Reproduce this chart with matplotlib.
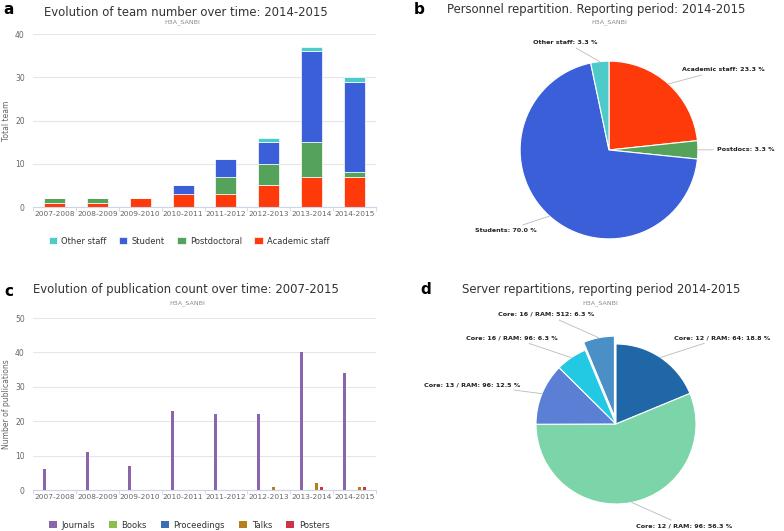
import numpy as np
import matplotlib
matplotlib.use('Agg')
import matplotlib.pyplot as plt

# ---- data ----
years = ['2007-2008', '2008-2009', '2009-2010', '2010-2011',
         '2011-2012', '2012-2013', '2013-2014', '2014-2015']

# panel a: team composition (stacked)
academic = [1, 1, 2, 3, 3, 5, 7, 7]
postdoc = [1, 1, 0, 0, 4, 5, 8, 1]
student = [0, 0, 0, 2, 4, 5, 21, 21]
other = [0, 0, 0, 0, 0, 1, 1, 1]

# panel b: personnel repartition
pers_labels = ['Academic staff', 'Postdocs', 'Students', 'Other staff']
pers_pct = [23.3, 3.3, 70.0, 3.3]

# panel c: publications
pub_types = ['Journals', 'Books', 'Proceedings', 'Talks', 'Posters']
journals = [6, 11, 7, 23, 22, 22, 40, 34]
books = [0, 0, 0, 0, 0, 0, 0, 0]
proceedings = [0, 0, 0, 0, 0, 0, 0, 0]
talks = [0, 0, 0, 0, 0, 1, 2, 1]
posters = [0, 0, 0, 0, 0, 0, 1, 1]

# panel d: servers
server_labels = ['Core: 12 / RAM: 64', 'Core: 12 / RAM: 96', 'Core: 13 / RAM: 96',
                 'Core: 16 / RAM: 96', 'Core: 16 / RAM: 512']
server_pct = [18.8, 56.3, 12.5, 6.3, 6.3]

# ---- style ----
W, H = 784, 531
GRID = '#e6e6e6'
AXLINE = '#ccd6eb'
TICK = '#666666'
SUB = '#8a8a8a'

team_colors = {'academic': '#ff3a0a', 'postdoc': '#55a35a',
               'student': '#3b5fd8', 'other': '#4fcaca'}
pers_colors = ['#ff3a0a', '#55a35a', '#3b5fd8', '#4fcaca']
pub_colors = ['#8a65aa', '#8bbd4f', '#3b6db3', '#b5801c', '#cc3344']
server_colors = ['#1f67a6', '#7cd4a9', '#5c7fd6', '#23c8e2', '#4a8fc6']

fig = plt.figure(figsize=(W / 100, H / 100), dpi=100)


def px_axes(left, top, right, bottom):
    return fig.add_axes([left / W, 1 - bottom / H, (right - left) / W, (bottom - top) / H])


def ftext(x, y, s, **kw):
    fig.text(x / W, 1 - y / H, s, **kw)


def style_bar_axes(ax, ymax, step, ylabel):
    ax.set_xlim(-0.5, len(years) - 0.5)
    ax.set_ylim(0, ymax)
    ax.set_yticks(np.arange(0, ymax + 1, step))
    ax.set_xticks(np.arange(len(years)))
    ax.set_xticklabels(years)
    ax.set_xticks(np.arange(-0.5, len(years)), minor=True)
    for s in ['top', 'right', 'left']:
        ax.spines[s].set_visible(False)
    ax.spines['bottom'].set_color(AXLINE)
    ax.tick_params(axis='y', length=0, labelsize=5.5, labelcolor=TICK, pad=6)
    ax.tick_params(axis='x', which='major', length=0, labelsize=5.3, labelcolor=TICK, pad=3)
    ax.tick_params(axis='x', which='minor', length=3, color=AXLINE)
    ax.grid(axis='y', color=GRID, linewidth=0.8)
    ax.set_axisbelow(True)
    ax.set_ylabel(ylabel, fontsize=5.5, color=TICK)
    # keep the axis title inside the figure (right edge ~10 px from the left edge)
    ax.yaxis.set_label_coords(-22 / 343, 0.5)


def pie_labels(ax, wedges, labels, pcts, r_lab=1.25):
    for w, lab, p in zip(wedges, labels, pcts):
        ang = np.deg2rad((w.theta1 + w.theta2) / 2)
        cx, cy = w.center
        x0, y0 = cx + w.r * np.cos(ang), cy + w.r * np.sin(ang)
        x1, y1 = cx + r_lab * np.cos(ang), cy + r_lab * np.sin(ang)
        ha = 'left' if np.cos(ang) >= 0 else 'right'
        ax.annotate('{}: {:.1f} %'.format(lab, p), xy=(x0, y0), xytext=(x1, y1),
                    ha=ha, va='center', fontsize=4.6, fontweight='bold', color='#222222',
                    arrowprops=dict(arrowstyle='-', color='#bbbbbb', lw=0.6,
                                    shrinkA=1, shrinkB=0))


x = np.arange(len(years))

# ---- panel a ----
ax_a = px_axes(33, 34, 376, 207)
style_bar_axes(ax_a, 40, 10, 'Total team')
bw = 0.49
b0 = np.zeros(len(years))
stack = [('Academic staff', academic, team_colors['academic']),
         ('Postdoctoral', postdoc, team_colors['postdoc']),
         ('Student', student, team_colors['student']),
         ('Other staff', other, team_colors['other'])]
handles_a = {}
for name, vals, col in stack:
    vals = np.array(vals)
    h = ax_a.bar(x, vals, bw, bottom=b0, color=col, edgecolor='white', linewidth=0.5, label=name)
    handles_a[name] = h
    b0 = b0 + vals
order_a = ['Other staff', 'Student', 'Postdoctoral', 'Academic staff']
fig.legend([handles_a[n] for n in order_a], order_a, ncol=4, loc='center',
           bbox_to_anchor=(189 / W, 1 - 241 / H), frameon=False, fontsize=6.0,
           labelcolor='#333333', handlelength=1.0, handleheight=1.0, columnspacing=1.5,
           handletextpad=0.5)

ftext(186, 12, 'Evolution of team number over time: 2014-2015', ha='center', va='center',
      fontsize=8.4, color='#333333')
ftext(182, 22, 'H3A_SANBI', ha='center', va='center', fontsize=4.6, color=SUB)
ftext(3, 10, 'a', ha='left', va='center', fontsize=11, fontweight='bold')

# ---- panel c ----
ax_c = px_axes(33, 318, 376, 490)
style_bar_axes(ax_c, 50, 10, 'Number of publications')
pub_series = [journals, books, proceedings, talks, posters]
offsets = np.array([-0.24, -0.12, 0.0, 0.12, 0.24])
handles_c = []
for vals, off, col, name in zip(pub_series, offsets, pub_colors, pub_types):
    h = ax_c.bar(x + off, vals, 0.07, color=col, label=name)
    handles_c.append(h)
fig.legend(handles_c, pub_types, ncol=5, loc='center',
           bbox_to_anchor=(189 / W, 1 - 525 / H), frameon=False, fontsize=6.0,
           labelcolor='#333333', handlelength=1.0, handleheight=1.0, columnspacing=1.7,
           handletextpad=0.5)

ftext(186, 290, 'Evolution of publication count over time: 2007-2015', ha='center', va='center',
      fontsize=8.4, color='#333333')
ftext(187, 303, 'H3A_SANBI', ha='center', va='center', fontsize=4.6, color=SUB)
ftext(4, 291, 'c', ha='left', va='center', fontsize=11, fontweight='bold')

# ---- panel b ----
ax_b = px_axes(609 - 120, 150 - 120, 609 + 120, 150 + 120)
wb, _ = ax_b.pie(pers_pct, colors=pers_colors, startangle=90, counterclock=False,
                 wedgeprops=dict(edgecolor='white', linewidth=0.8))
ax_b.set_xlim(-1.35, 1.35)
ax_b.set_ylim(-1.35, 1.35)
ax_b.set_aspect('equal')
ax_b.axis('off')
pie_labels(ax_b, wb, pers_labels, pers_pct, r_lab=1.22)

ftext(596, 10, 'Personnel repartition. Reporting period: 2014-2015', ha='center', va='center',
      fontsize=8.4, color='#333333')
ftext(609, 22, 'H3A_SANBI', ha='center', va='center', fontsize=4.6, color=SUB)
ftext(414, 10, 'b', ha='left', va='center', fontsize=11, fontweight='bold')

# ---- panel d ----
ax_d = px_axes(616 - 120, 424 - 120, 616 + 120, 424 + 120)
explode = [0, 0, 0, 0, 0.1]
wd, _ = ax_d.pie(server_pct, colors=server_colors, startangle=90, counterclock=False,
                 explode=explode, wedgeprops=dict(edgecolor='white', linewidth=0.8))
ax_d.set_xlim(-1.5, 1.5)
ax_d.set_ylim(-1.5, 1.5)
ax_d.set_aspect('equal')
ax_d.axis('off')
pie_labels(ax_d, wd, server_labels, server_pct, r_lab=1.3)

ftext(601, 290, 'Server repartitions, reporting period 2014-2015', ha='center', va='center',
      fontsize=8.4, color='#333333')
ftext(600, 303, 'H3A_SANBI', ha='center', va='center', fontsize=4.6, color=SUB)
ftext(420, 290, 'd', ha='left', va='center', fontsize=11, fontweight='bold')

fig.savefig('out.png', dpi=100)
